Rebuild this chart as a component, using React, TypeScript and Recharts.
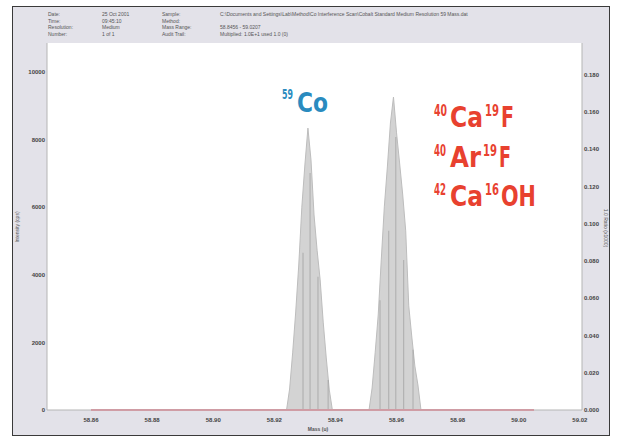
import { ComposedChart, Area, Bar, Line, XAxis, YAxis, CartesianGrid } from "recharts";

// mass scan across m/z 59 — 59Co next to the CaF / ArF / CaOH interferences
const massTicks = [58.86, 58.88, 58.9, 58.92, 58.94, 58.96, 58.98, 59.0, 59.02];
const intensityTicks = [0, 2000, 4000, 6000, 8000, 10000];
const ratioTicks = [0, 0.02, 0.04, 0.06, 0.08, 0.1, 0.12, 0.14, 0.16, 0.18];

// profile of the two peaks (counts per second)
const signalMass = [
  58.924, 58.925, 58.926, 58.927, 58.928, 58.929, 58.93, 58.931, 58.932, 58.933,
  58.934, 58.935, 58.936, 58.937, 58.938, 58.939,
  58.951, 58.952, 58.953, 58.954, 58.955, 58.956, 58.957, 58.958, 58.959, 58.96,
  58.961, 58.962, 58.963, 58.964, 58.965, 58.966, 58.967, 58.968,
];
const signalCps = [
  0, 620, 1690, 2900, 4290, 6000, 7250, 8340, 7400, 5770,
  4730, 3850, 2600, 1540, 590, 0,
  0, 650, 1690, 2810, 4440, 6010, 7190, 8490, 9260, 8200,
  7310, 6390, 5300, 3080, 2160, 1300, 740, 0,
];

// measured points drawn as sticks inside the profile
const stickMass = [58.9294, 58.9317, 58.9343, 58.9376, 58.9546, 58.9575, 58.9598, 58.9624, 58.9654];
const stickCps = [4650, 7010, 3940, 890, 3250, 5300, 8080, 4440, 1780];

// interference ratio trace, flat at zero
const traceMass = [58.86, 59.005];
const traceRatio = [0, 0];

type Row = { mass: number; signal?: number; stick?: number; trace?: number };

const rows: Record<string, Row> = {};
const put = (m: number, key: "signal" | "stick" | "trace", v: number) => {
  const k = m.toFixed(4);
  if (!rows[k]) rows[k] = { mass: m };
  rows[k][key] = v;
};
signalMass.forEach((m, i) => put(m, "signal", signalCps[i]));
stickMass.forEach((m, i) => put(m, "stick", stickCps[i]));
traceMass.forEach((m, i) => put(m, "trace", traceRatio[i]));
const data = Object.values(rows).sort((a, b) => a.mass - b.mass);

const header = [
  ["Date:", "25 Oct 2001", "Sample:", "C:\\Documents and Settings\\Lab\\Method\\Co Interference Scan\\Cobalt Standard Medium Resolution 59 Mass.dat"],
  ["Time:", "09:45:10", "Method:", ""],
  ["Resolution:", "Medium", "Mass Range:", "58.8456 - 59.0207"],
  ["Number:", "1 of 1", "Audit Trail:", "Multiplied: 1.0E+1 used 1.0 (0)"],
];
const headerCols = [48, 102, 162, 220];

// isotope labels: [text, left, width, superscript?]
type Piece = [string, number, number, boolean];
const coLabel: Piece[] = [["59", 282, 11, true], ["Co", 297, 31, false]];
const interferenceLabels: { base: number; pieces: Piece[] }[] = [
  { base: 127, pieces: [["40", 434, 13, true], ["Ca", 450, 33, false], ["19", 485, 14, true], ["F", 501, 13, false]] },
  { base: 167, pieces: [["40", 434, 12, true], ["Ar", 450, 31, false], ["19", 483, 14, true], ["F", 499, 12, false]] },
  { base: 206, pieces: [["42", 434, 12, true], ["Ca", 450, 33, false], ["16", 485, 14, true], ["OH", 501, 35, false]] },
];

// rough DejaVu Sans Bold advances (em) used to squeeze the labels into a condensed look
const adv: Record<string, number> = { C: 0.734, a: 0.675, o: 0.687, r: 0.493, A: 0.774, F: 0.683, O: 0.85, H: 0.837 };
const natural = (t: string, size: number) => t.split("").reduce((s, c) => s + (adv[c] ?? 0.696), 0) * size;

const tickStyle = { fontSize: 6, fill: "#444", fontWeight: 700, fontFamily: "Liberation Sans, Arial, sans-serif" };

function IsoLabel({ pieces, base, color, big, small, rise }: { pieces: Piece[]; base: number; color: string; big: number; small: number; rise: number }) {
  return (
    <g fontFamily="'DejaVu Sans', sans-serif" fontWeight={700} fill={color}>
      {pieces.map(([t, x, w, sup]) => {
        const size = sup ? small : big;
        const sx = w / natural(t, size);
        return (
          <g key={t + x} transform={`translate(${x} ${sup ? base - rise : base}) scale(${sx.toFixed(3)} 1)`}>
            <text x={0} y={0} fontSize={size}>
              {t}
            </text>
          </g>
        );
      })}
    </g>
  );
}

export default function App() {
  return (
    <div style={{ position: "absolute", left: 0, top: 0, width: 618, height: 437, background: "#fff" }}>
      <div
        style={{
          position: "absolute",
          left: 12,
          top: 6,
          width: 598,
          height: 430,
          boxSizing: "border-box",
          border: "1.5px solid #3a3a3a",
          background: "#e3e2e9",
        }}
      />
      {header.map((r, i) =>
        r.map((t, j) => (
          <div
            key={`${i}-${j}`}
            style={{
              position: "absolute",
              left: headerCols[j],
              top: 11 + i * 6.5,
              fontSize: 5,
              lineHeight: "6px",
              color: "#555",
              fontFamily: "Liberation Sans, Arial, sans-serif",
              whiteSpace: "nowrap",
            }}
          >
            {t}
          </div>
        ))
      )}
      <ComposedChart
        width={618}
        height={437}
        data={data}
        margin={{ top: 43, right: 6, left: 7, bottom: 7 }}
        style={{ position: "absolute", left: 0, top: 0 }}
      >
        <CartesianGrid horizontal={false} vertical={false} fill="#ffffff" />
        <XAxis
          dataKey="mass"
          type="number"
          domain={[58.8456, 59.0207]}
          ticks={massTicks}
          tickFormatter={(v: number) => v.toFixed(2)}
          tick={tickStyle}
          tickLine={false}
          tickSize={0}
          tickMargin={8}
          axisLine={{ stroke: "#b5b5b5" }}
          height={20}
          allowDataOverflow
        />
        <YAxis
          yAxisId="cps"
          domain={[0, 10858]}
          ticks={intensityTicks}
          tick={tickStyle}
          tickLine={false}
          tickSize={0}
          tickMargin={2}
          axisLine={{ stroke: "#b5b5b5" }}
          width={40}
        />
        <YAxis
          yAxisId="ratio"
          orientation="right"
          domain={[0, 0.197]}
          ticks={ratioTicks}
          tickFormatter={(v: number) => v.toFixed(3)}
          tick={tickStyle}
          tickLine={false}
          tickSize={0}
          tickMargin={2}
          axisLine={{ stroke: "#b5b5b5" }}
          width={30}
        />
        <Area
          yAxisId="cps"
          type="linear"
          dataKey="signal"
          stroke="#bdbdbd"
          strokeWidth={1}
          fill="#d3d3d3"
          fillOpacity={1}
          connectNulls
          dot={false}
          activeDot={false}
          isAnimationActive={false}
        />
        <Bar yAxisId="cps" dataKey="stick" barSize={1} fill="#8c8c8c" isAnimationActive={false} />
        <Line
          yAxisId="ratio"
          type="linear"
          dataKey="trace"
          stroke="#ea8494"
          strokeWidth={2}
          connectNulls
          dot={false}
          activeDot={false}
          isAnimationActive={false}
        />
      </ComposedChart>
      <svg width={618} height={437} style={{ position: "absolute", left: 0, top: 0, pointerEvents: "none" }}>
        <text x={19} y={227} transform="rotate(-90 19 227)" textAnchor="middle" fontSize={5} fill="#555" fontFamily="Liberation Sans, Arial, sans-serif">
          Intensity (cps)
        </text>
        <text x={604} y={228} transform="rotate(90 604 228)" textAnchor="middle" fontSize={5} fill="#555" fontFamily="Liberation Sans, Arial, sans-serif">
          1.0 Ratio (x1000)
        </text>
        <text x={318} y={431} textAnchor="middle" fontSize={5} fill="#555" fontWeight={700} fontFamily="Liberation Sans, Arial, sans-serif">
          Mass (u)
        </text>
        <IsoLabel pieces={coLabel} base={112} color="#2a8bbf" big={27} small={14} rise={13} />
        {interferenceLabels.map((l) => (
          <IsoLabel key={l.base} pieces={l.pieces} base={l.base} color="#e8412f" big={29} small={16} rise={11} />
        ))}
      </svg>
    </div>
  );
}
